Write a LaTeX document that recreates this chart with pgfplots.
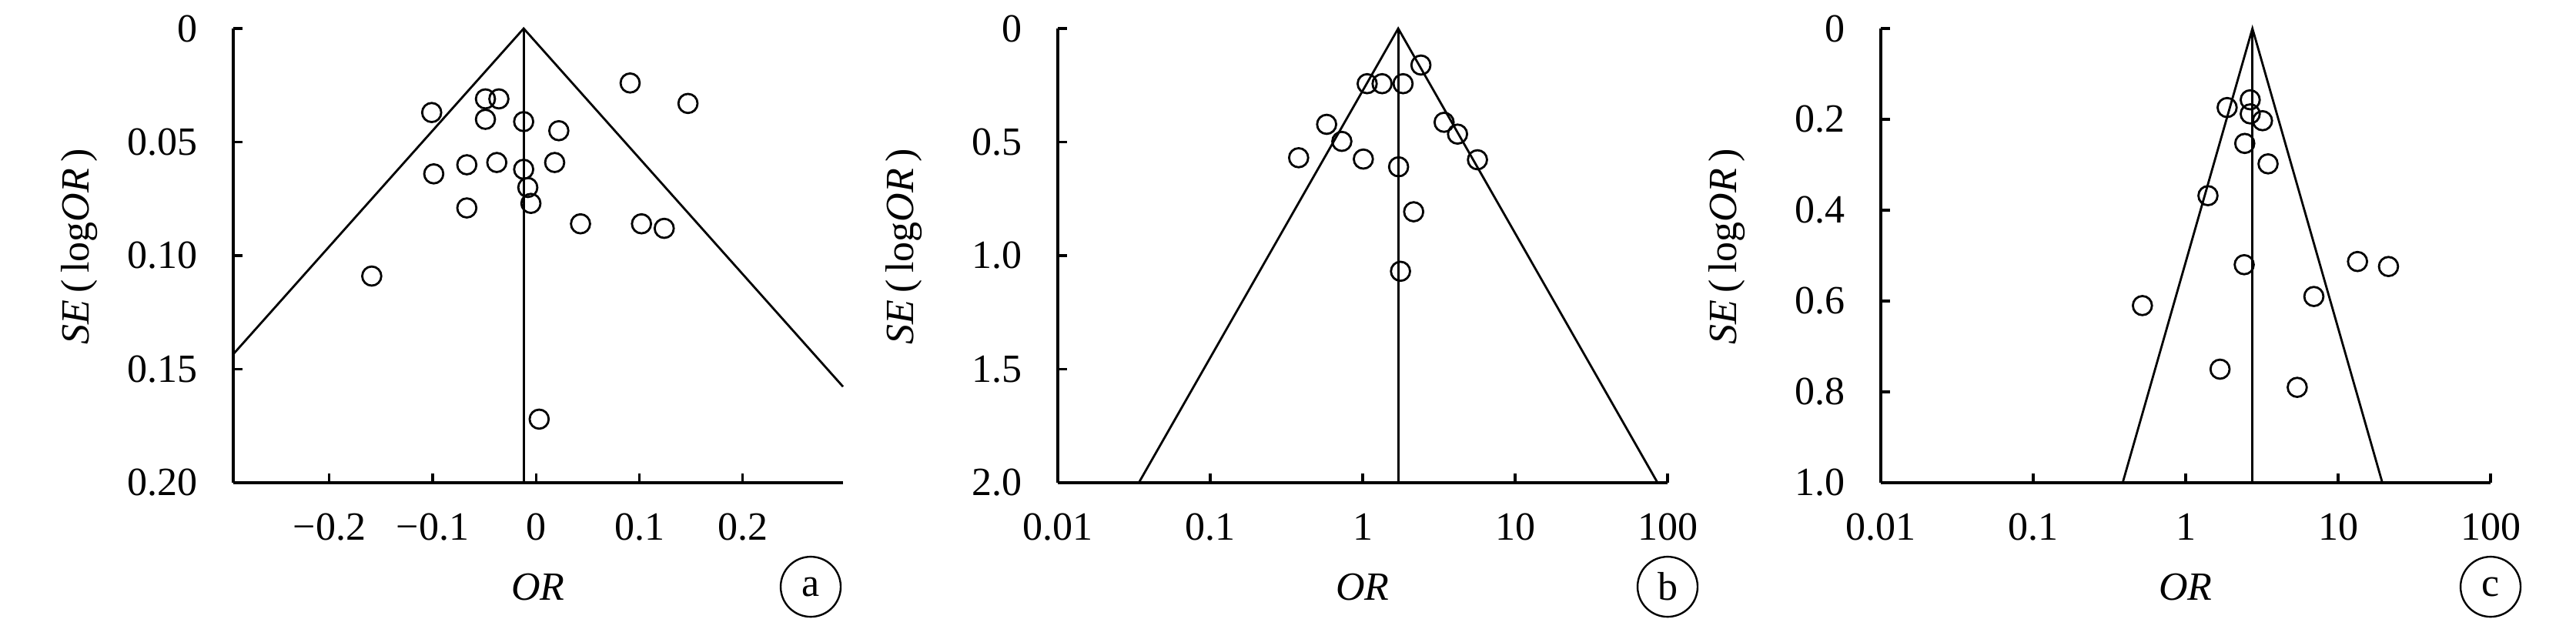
\documentclass[border=0pt]{standalone}
\usepackage{pgfplots}
\pgfplotsset{compat=1.18}
\usepackage{fontspec}
\setmainfont{Liberation Serif}

\pgfplotsset{
  funnel/.style={
    scale only axis, width=198pt, height=147.5pt,
    y dir=reverse,
    axis x line*=bottom, axis y line*=left,
    axis line style={-, line width=0.8pt},
    tick align=inside, major tick length=3pt,
    tick style={line width=0.8pt, black},
    xminorticks=false, yminorticks=false,
    font=\fontsize{13}{15}\selectfont\rmfamily,
    xticklabel shift=6.5pt, yticklabel shift=8pt,
    xlabel={\textit{OR}},
    ylabel={\textit{SE}\,(\,log\textit{OR}\,)},
    xlabel style={at={(axis description cs:0.5,-0.229)}, anchor=center},
    ylabel style={at={(axis description cs:-0.253,0.52)}, anchor=center},
    clip=false,
  },
  pts/.style={only marks, mark=o, mark size=3.1pt, mark options={line width=0.7pt}, black},
  fl/.style={no marks, line width=0.7pt, black},
}
\tikzset{tag/.style={draw, circle, line width=0.6pt, minimum size=19.5pt, inner sep=0pt, font=\fontsize{13}{15}\selectfont\rmfamily}}

\begin{document}
\begin{tikzpicture}
\path[use as bounding box] (-75.75pt,-44pt) rectangle (760.75pt,156.75pt);

% panel a
\begin{axis}[funnel, at={(0pt,0pt)},
  xmin=-0.293, xmax=0.297, ymin=0, ymax=0.2,
  xtick={-0.2,-0.1,0,0.1,0.2}, xticklabels={−0.2,−0.1,0,0.1,0.2},
  ytick={0,0.05,0.1,0.15,0.2}, yticklabels={0,0.05,0.10,0.15,0.20}]
\addplot[fl] coordinates {(-0.293,0.1434) (-0.012,0) (0.297,0.1577)};
\addplot[fl] coordinates {(-0.012,0) (-0.012,0.2)};
\addplot[pts] coordinates {
(-0.101,0.037) (-0.049,0.031) (-0.036,0.031) (-0.049,0.040) (-0.012,0.041)
(0.022,0.045) (0.091,0.024) (0.147,0.033) (-0.099,0.064) (-0.067,0.060)
(-0.038,0.059) (-0.012,0.062) (0.018,0.059) (-0.008,0.070) (-0.005,0.077)
(-0.067,0.079) (0.043,0.086) (0.102,0.086) (0.124,0.088) (-0.159,0.109)
(0.003,0.172)};
\node[tag] at (axis description cs:0.947,-0.229) {a};
\end{axis}

% panel b
\begin{axis}[funnel, at={(267.75pt,0pt)}, xmode=log,
  xmin=0.01, xmax=100, ymin=0, ymax=2,
  xtick={0.01,0.1,1,10,100}, xticklabels={0.01,0.1,1,10,100},
  ytick={0,0.5,1,1.5,2}, yticklabels={0,0.5,1.0,1.5,2.0}]
\addplot[fl] coordinates {(0.034,2) (1.71,0) (86,2)};
\addplot[fl] coordinates {(1.71,0) (1.71,2)};
\addplot[pts] coordinates {
(2.41,0.161) (1.07,0.243) (1.34,0.243) (1.84,0.243) (0.58,0.422)
(0.73,0.497) (0.38,0.569) (1.01,0.575) (1.72,0.609) (3.42,0.413)
(4.19,0.465) (5.66,0.578) (2.16,0.807) (1.77,1.069)};
\node[tag] at (axis description cs:1,-0.229) {b};
\end{axis}

% panel c
\begin{axis}[funnel, at={(535pt,0pt)}, xmode=log,
  xmin=0.01, xmax=100, ymin=0, ymax=1,
  xtick={0.01,0.1,1,10,100}, xticklabels={0.01,0.1,1,10,100},
  ytick={0,0.2,0.4,0.6,0.8,1}, yticklabels={0,0.2,0.4,0.6,0.8,1.0}]
\addplot[fl] coordinates {(0.386,1) (2.74,0) (19.5,1)};
\addplot[fl] coordinates {(2.74,0) (2.74,1)};
\addplot[pts] coordinates {
(2.65,0.157) (1.87,0.174) (2.65,0.188) (3.19,0.203) (2.44,0.253)
(3.47,0.298) (1.40,0.368) (2.42,0.520) (13.4,0.513) (21.4,0.524)
(6.93,0.590) (0.52,0.610) (1.68,0.750) (5.39,0.790)};
\node[tag] at (axis description cs:1,-0.229) {c};
\end{axis}
\end{tikzpicture}
\end{document}
